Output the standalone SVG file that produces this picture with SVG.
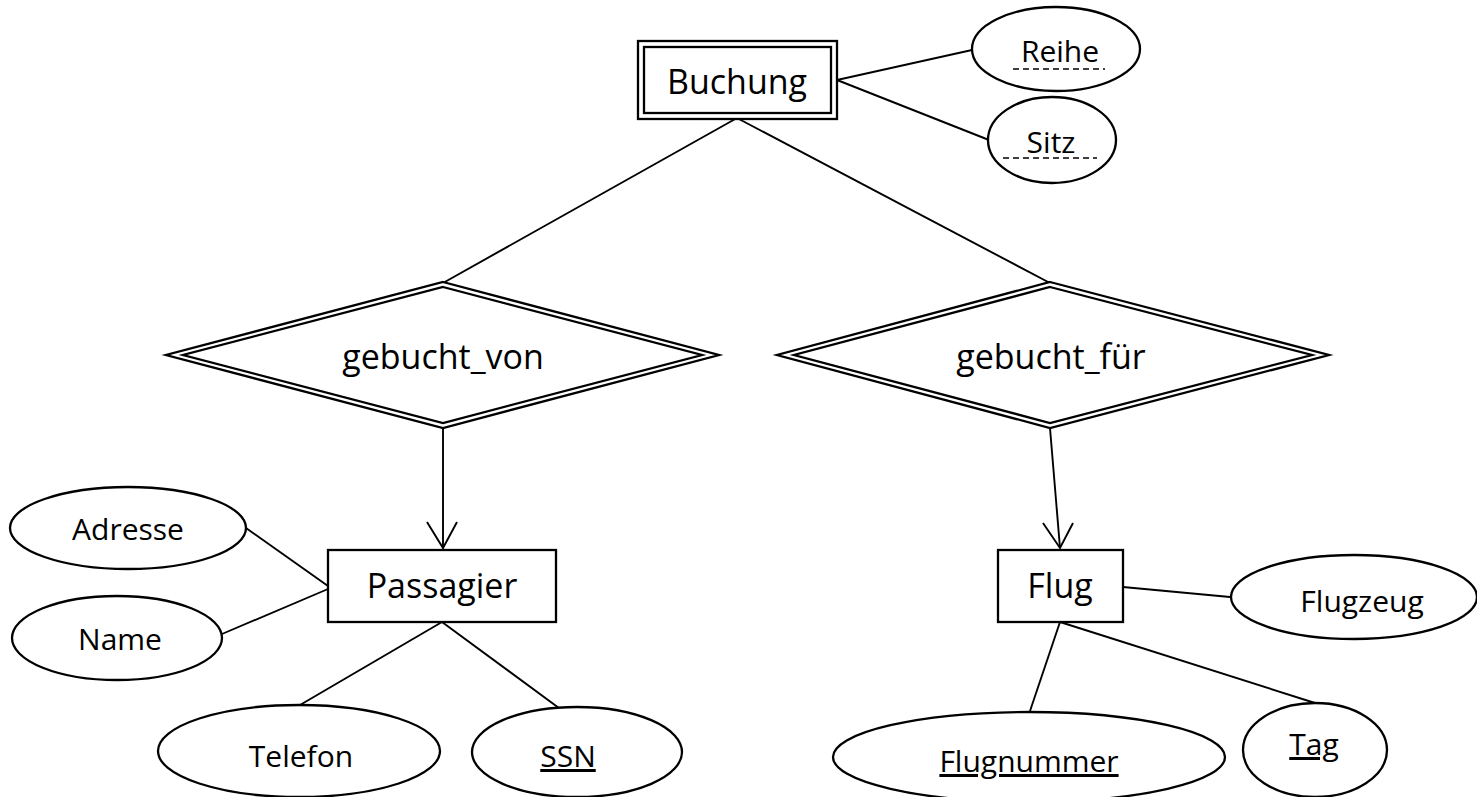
<svg xmlns="http://www.w3.org/2000/svg" width="1477" height="797" viewBox="0 0 1477 797">
  <style>
    .shape { fill: #ffffff; stroke: #000000; stroke-width: 2.3; }
    .wire { fill: none; stroke: #000000; stroke-width: 1.9; }
    .big { font-family: "Open Sans", "Liberation Sans", sans-serif; font-size: 34px; fill: #000000; text-anchor: middle; }
    .attr { font-family: "Open Sans", "Liberation Sans", sans-serif; font-size: 30px; fill: #000000; text-anchor: middle; }
    .key { text-decoration: underline; }
    .partial { stroke: #000000; stroke-width: 1.6; stroke-dasharray: 6 4; }
  </style>
  <rect width="1477" height="797" fill="#ffffff"/>

  <!-- connectors -->
  <g id="connectors">
    <line class="wire" x1="837" y1="80" x2="972" y2="50"/>
    <line class="wire" x1="837" y1="80" x2="989" y2="140"/>
    <line class="wire" x1="737" y1="118" x2="443" y2="283"/>
    <line class="wire" x1="737" y1="118" x2="1050" y2="283"/>
    <!-- arrows into Passagier and Flug -->
    <line class="wire" x1="443" y1="428" x2="443" y2="548"/>
    <polyline class="wire" points="427,522 443,548 457,522"/>
    <line class="wire" x1="1050" y1="428" x2="1060" y2="548"/>
    <polyline class="wire" points="1043,523 1060,548 1073,523"/>
    <!-- Passagier attributes -->
    <line class="wire" x1="246" y1="528" x2="328" y2="586"/>
    <line class="wire" x1="222" y1="634" x2="328" y2="589"/>
    <line class="wire" x1="442" y1="622" x2="300" y2="705"/>
    <line class="wire" x1="442" y1="622" x2="563" y2="711"/>
    <!-- Flug attributes -->
    <line class="wire" x1="1123" y1="587" x2="1230" y2="597"/>
    <line class="wire" x1="1060" y1="622" x2="1030" y2="711"/>
    <line class="wire" x1="1060" y1="622" x2="1315" y2="703"/>
  </g>

  <!-- weak entity Buchung -->
  <g id="buchung">
    <rect class="shape" x="638" y="41" width="199" height="78"/>
    <rect class="shape" x="644" y="47" width="187" height="66"/>
    <text class="big" x="737" y="94">Buchung</text>
  </g>

  <g id="reihe">
    <ellipse class="shape" cx="1056" cy="49" rx="84" ry="42"/>
    <text class="attr" x="1060" y="62">Reihe</text>
    <line class="partial" x1="1013" y1="69" x2="1105" y2="69"/>
  </g>

  <g id="sitz">
    <ellipse class="shape" cx="1052" cy="140" rx="64" ry="43"/>
    <text class="attr" x="1051" y="153">Sitz</text>
    <line class="partial" x1="1003" y1="158" x2="1097" y2="158"/>
  </g>

  <!-- identifying relationships -->
  <g id="gebucht_von">
    <polygon class="shape" points="443,282 719,355 443,428 166,355"/>
    <polygon class="shape" points="443,287 702,355 443,423 183,355"/>
    <text class="big" x="443" y="369">gebucht_von</text>
  </g>

  <g id="gebucht_fuer">
    <polygon class="shape" points="1050,282 1329,355 1050,428 777,355"/>
    <polygon class="shape" points="1050,287 1312,355 1050,423 794,355"/>
    <text class="big" x="1051" y="369">gebucht_für</text>
  </g>

  <!-- Passagier -->
  <g id="passagier">
    <rect class="shape" x="328" y="550" width="228" height="72"/>
    <text class="big" x="442" y="598">Passagier</text>
  </g>

  <g id="adresse">
    <ellipse class="shape" cx="128" cy="528" rx="118" ry="41"/>
    <text class="attr" x="128" y="540">Adresse</text>
  </g>

  <g id="name">
    <ellipse class="shape" cx="117" cy="638" rx="105" ry="42"/>
    <text class="attr" x="120" y="650">Name</text>
  </g>

  <g id="telefon">
    <ellipse class="shape" cx="299" cy="751" rx="141" ry="46"/>
    <text class="attr" x="301" y="767">Telefon</text>
  </g>

  <g id="ssn">
    <ellipse class="shape" cx="577" cy="752" rx="105" ry="45"/>
    <text class="attr key" x="568" y="767">SSN</text>
  </g>

  <!-- Flug -->
  <g id="flug">
    <rect class="shape" x="998" y="550" width="125" height="72"/>
    <text class="big" x="1060" y="598">Flug</text>
  </g>

  <g id="flugzeug">
    <ellipse class="shape" cx="1354" cy="597" rx="123" ry="42"/>
    <text class="attr" x="1362" y="612">Flugzeug</text>
  </g>

  <g id="flugnummer">
    <ellipse class="shape" cx="1029" cy="757" rx="196" ry="45"/>
    <text class="attr key" x="1029" y="772">Flugnummer</text>
  </g>

  <g id="tag">
    <ellipse class="shape" cx="1315" cy="750" rx="72" ry="47"/>
    <text class="attr key" x="1314" y="755">Tag</text>
  </g>
</svg>
